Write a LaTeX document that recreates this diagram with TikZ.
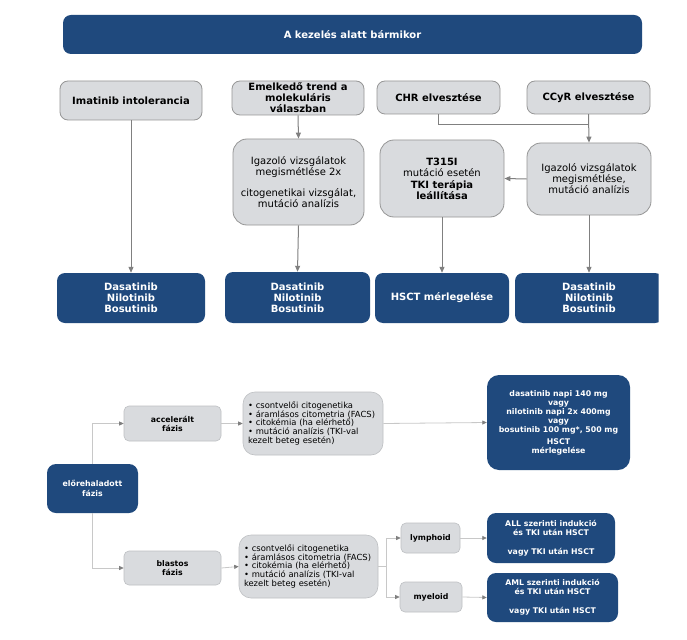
\documentclass[tikz,border=0pt]{standalone}
\usepackage{fontspec}
\setmainfont{DejaVu Sans}
\usetikzlibrary{arrows.meta}
\definecolor{navy}{RGB}{31,73,125}
\definecolor{boxgray}{RGB}{217,219,222}
\definecolor{edgegray}{RGB}{150,150,150}
\definecolor{arrgray}{RGB}{128,128,128}
\definecolor{lightline}{RGB}{200,200,200}
\definecolor{lightedge}{RGB}{190,192,195}
\begin{document}
\begin{tikzpicture}[x=1pt,y=-1pt,
  gbox/.style={draw=edgegray, fill=boxgray, line width=0.8pt, rounded corners=8pt, align=center, inner sep=0pt, font=\fontsize{10}{11}\selectfont\bfseries},
  gbig/.style={gbox, rounded corners=14pt, font=\fontsize{10}{11}\selectfont},
  dbox/.style={fill=navy, text=white, rounded corners=8pt, align=center, inner sep=0pt, font=\fontsize{10}{11}\selectfont\bfseries},
  sgbox/.style={draw=lightedge, fill=boxgray, line width=0.6pt, rounded corners=5pt, align=center, inner sep=0pt, font=\fontsize{7.8}{9}\selectfont\bfseries},
  bulbox/.style={draw=lightedge, fill=boxgray, line width=0.6pt, rounded corners=12pt, align=left, inner xsep=5pt, inner ysep=0pt, font=\fontsize{8.4}{8.6}\selectfont},
  sdbox/.style={fill=navy, text=white, rounded corners=12pt, align=center, inner sep=0pt, font=\fontsize{7.8}{9.2}\selectfont\bfseries},
  arr/.style={draw=arrgray, line width=1pt, -{Triangle[length=6pt,width=5pt]}},
  larr/.style={draw=lightline, line width=0.8pt, -{Triangle[length=4.5pt,width=4pt,color=arrgray]}},
  lline/.style={draw=lightline, line width=0.8pt}
]
\useasboundingbox[fill=white] (0,0) rectangle (687,639);

% top section
\node[dbox, minimum width=579pt, minimum height=39pt] (top) at (352.5,34.5) {A kezelés alatt bármikor};

\node[gbox, minimum width=142pt, minimum height=39pt] (imat) at (131,100.5) {Imatinib intolerancia};
\node[gbox, minimum width=132pt, minimum height=34pt] (emel) at (298,98) {Emelkedő trend a\\molekuláris\\válaszban};
\node[gbox, minimum width=123pt, minimum height=33pt] (chr) at (438.5,97.5) {CHR elvesztése};
\node[gbox, minimum width=123pt, minimum height=33pt] (ccyr) at (588.5,97.5) {CCyR elvesztése};

\node[gbig, minimum width=131pt, minimum height=86pt] (ig2) at (298.5,182) {Igazoló vizsgálatok\\megismétlése 2x\\[10pt]citogenetikai vizsgálat,\\mutáció analízis};
\node[gbig, minimum width=124pt, minimum height=77pt] (t315) at (442,178.5) {\textbf{T315I}\\mutáció esetén\\[1pt]\textbf{TKI terápia}\\\textbf{leállítása}};
\node[gbig, minimum width=124pt, minimum height=72pt] (igr) at (589,179) {Igazoló vizsgálatok\\megismétlése,\\mutáció analízis};

\node[dbox, minimum width=148pt, minimum height=50pt] (d1) at (131,298) {Dasatinib\\Nilotinib\\Bosutinib};
\node[dbox, minimum width=145pt, minimum height=51pt] (d2) at (297.5,297.5) {Dasatinib\\Nilotinib\\Bosutinib};
\node[dbox, minimum width=134pt, minimum height=50pt] (d3) at (442,298) {HSCT mérlegelése};
\begin{scope}
\clip (0,0) rectangle (658.5,639);
\node[dbox, minimum width=148pt, minimum height=50pt] (d4) at (589,298) {Dasatinib\\Nilotinib\\Bosutinib};
\end{scope}

\draw[arr] (imat.south) -- (d1.north);
\draw[arr] (emel.south) -- (ig2.north);
\draw[arr] (ig2.south) -- (d2.north);
\draw[draw=arrgray, line width=1pt] (chr.south) -- ++(0,10) -| (ccyr.south);
\draw[arr] (ccyr.south) -- (igr.north);
\draw[arr] (igr.west) -- (t315.east);
\draw[arr] (t315.south) -- (d3.north);
\draw[arr] (igr.south) -- (d4.north);

% bottom section
\node[sdbox, rounded corners=9pt, minimum width=91pt, minimum height=49pt] (elo) at (92.5,488.5) {előrehaladott\\fázis};
\node[sgbox, minimum width=97pt, minimum height=35pt] (acc) at (172.5,423.5) {accelerált\\fázis};
\node[sgbox, minimum width=97pt, minimum height=34pt] (blast) at (172.5,568) {blastos\\fázis};
\node[bulbox, text width=130pt, minimum height=63pt] (accb) at (313,423.5) {• csontvelői citogenetika\\• áramlásos citometria (FACS)\\• citokémia (ha elérhető)\\• mutáció analízis (TKI-val\\kezelt beteg esetén)};
\node[bulbox, text width=129pt, minimum height=63pt] (blb) at (308.5,566.5) {• csontvelői citogenetika\\• áramlásos citometria (FACS)\\• citokémia (ha elérhető)\\• mutáció analízis (TKI-val\\kezelt beteg esetén)};
\node[sdbox, minimum width=143pt, minimum height=95pt] (accd) at (558.5,422.5) {dasatinib napi 140 mg\\vagy\\nilotinib napi 2x 400mg\\vagy\\bosutinib 100 mg*, 500 mg\\[2pt]HSCT\\mérlegelése};
\node[sgbox, minimum width=59pt, minimum height=30pt] (lymph) at (430.5,538) {lymphoid};
\node[sgbox, minimum width=62pt, minimum height=30pt] (myel) at (431,597) {myeloid};
\node[sdbox, rounded corners=9pt, minimum width=128pt, minimum height=50pt] (all) at (551,538) {ALL szerinti indukció\\és TKI után HSCT\\[10pt]vagy TKI után HSCT};
\node[sdbox, rounded corners=9pt, minimum width=131pt, minimum height=49pt] (aml) at (552.5,597.5) {AML szerinti indukció\\és TKI után HSCT\\[10pt]vagy TKI után HSCT};

\coordinate (split) at (386,566.5);
\draw[larr] (elo.north) |- (acc.west);
\draw[larr] (elo.south) |- (blast.west);
\draw[larr] (acc.east) -- (accb.west);
\draw[larr] (accb.east) -- (accd.west);
\draw[larr] (blast.east) -- (blb.west);
\draw[lline] (blb.east) -- (split);
\draw[larr] (split) |- (lymph.west);
\draw[larr] (split) |- (myel.west);
\draw[larr] (lymph.east) -- (all.west);
\draw[larr] (myel.east) -- (aml.west);
\end{tikzpicture}
\end{document}
